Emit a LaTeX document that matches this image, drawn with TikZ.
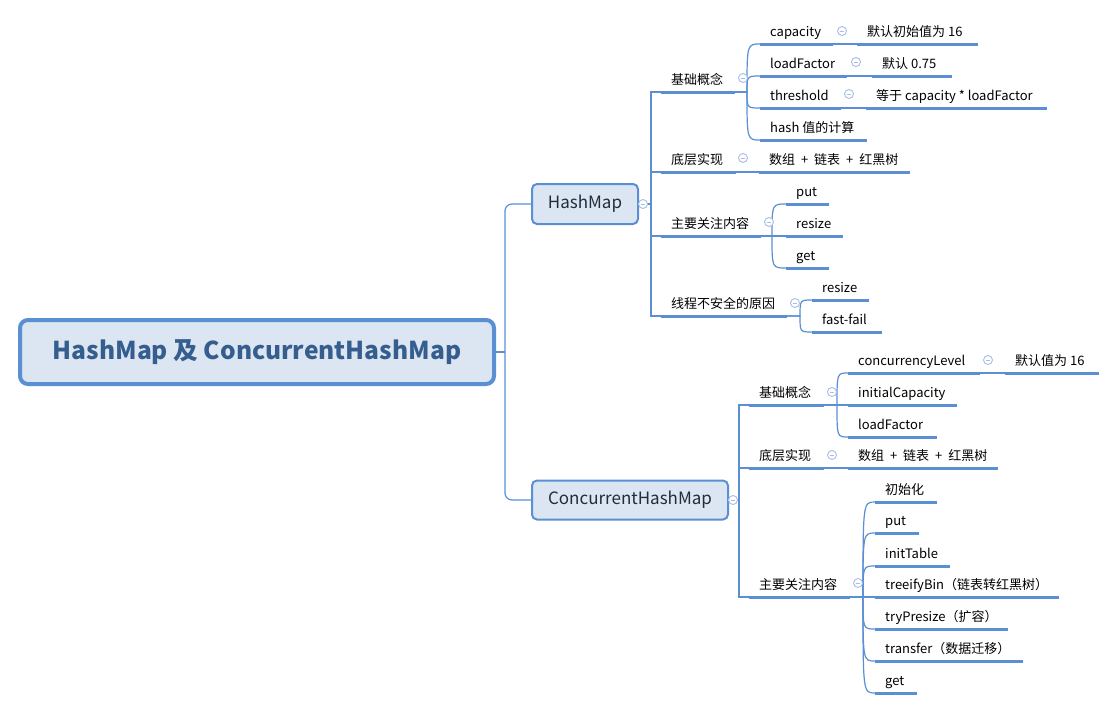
\documentclass[tikz,border=0pt]{standalone}
\usepackage{fontspec}
\setmainfont{Noto Sans CJK SC}
\definecolor{lineblue}{HTML}{5B8FD4}
\definecolor{boxfill}{HTML}{DCE6F2}
\definecolor{roottext}{HTML}{355E8E}
\definecolor{maintext}{HTML}{1F2D3D}
\definecolor{circ}{HTML}{A8BEE4}
\tikzset{
  conn/.style={draw=lineblue, line width=1.2pt},
  uline/.style={draw=lineblue, line width=3pt},
  txt/.style={inner sep=0pt, font=\fontsize{13}{15}\selectfont, text=black},
  collapse/.style={circle, draw=circ, fill=white, line width=0.9pt, minimum size=9pt, inner sep=0pt,
    path picture={\draw[circ, line width=0.9pt] ([xshift=-2.4pt]path picture bounding box.center) -- ([xshift=2.4pt]path picture bounding box.center);}},
  mainbox/.style={draw=lineblue, fill=boxfill, line width=2pt, rounded corners=5pt,
    font=\fontsize{17}{20}\selectfont, text=maintext, inner sep=0pt, anchor=west, minimum height=40pt},
  rootbox/.style={draw=lineblue, fill=boxfill, line width=4pt, rounded corners=8pt,
    font=\fontsize{24.6}{28}\selectfont\bfseries, text=roottext, inner sep=0pt, minimum width=474pt, minimum height=64pt}
}
\newcommand\topic[5]{%
  \coordinate (#1-l) at (#2,#3);
  \coordinate (#1-r) at (#4,#3);
  \node[txt, anchor=base west] (#1) at ([shift={(10,-8)}]#1-l) {#5};
  \draw[uline] (#1-l) -- (#1-r);
}
\newcommand\bracelink[3]{%
  \coordinate (#1-j) at ([xshift=#2pt]#1-r);
  \draw[conn] (#1-r) -- (#1-j) .. controls (#1-j |- #3-l) and (#1-j |- #3-l) .. (#3-l);
}
\newcommand\straightlink[2]{%
  \draw[conn] (#1-r) -- (#2-l);
}
\newcommand\plusgap{\hspace{3pt} + \hspace{3pt}}
\begin{document}
\begin{tikzpicture}[x=1pt,y=-1pt]
\useasboundingbox (0,0) rectangle (1117,710);
\fill[white] (0,0) rectangle (1117,710);

% root and main topics
\node[rootbox] (root) at (257,352) {HashMap 及 ConcurrentHashMap};
\node[mainbox, minimum width=106pt] (hm) at (531,204) {HashMap};
\node[mainbox, minimum width=196pt, minimum height=39pt] (chm) at (531,500) {ConcurrentHashMap};

\coordinate (rj) at (505,352);
\draw[conn] (root.east) -- (rj);
\draw[conn, rounded corners=7pt] (rj) |- (hm.west);
\draw[conn, rounded corners=7pt] (rj) |- (chm.west);

% HashMap subtopics
\topic{b1}{661}{92}{735}{基础概念}
\topic{b2}{661}{172}{736}{底层实现}
\topic{b3}{661}{236}{761}{主要关注内容}
\topic{b4}{661}{316}{787}{线程不安全的原因}

\coordinate (hmj) at (651,204);
\draw[conn] (hm.east) -- (hmj);
\foreach \n in {b1,b2,b3,b4} {\draw[conn] (hmj) |- (\n-l);}

\topic{c1}{760}{44}{833}{capacity}
\topic{c1v}{857}{44}{978}{默认初始值为 16}
\topic{c2}{760}{76}{847}{loadFactor}
\topic{c2v}{872}{76}{952}{默认 0.75}
\topic{c3}{760}{108}{841}{threshold}
\topic{c3v}{866}{108}{1047}{等于 capacity * loadFactor}
\topic{c4}{760}{140}{867}{hash 值的计算}
\topic{d1}{759}{172}{910}{数组\plusgap 链表\plusgap 红黑树}
\topic{e1}{786}{204}{829}{put}
\topic{e2}{786}{236}{843}{resize}
\topic{e3}{786}{268}{829}{get}
\topic{f1}{812}{300}{869}{resize}
\topic{f2}{812}{332}{882}{fast-fail}

\foreach \n in {c1,c2,c3,c4} {\bracelink{b1}{12}{\n}}
\straightlink{c1}{c1v}
\straightlink{c2}{c2v}
\straightlink{c3}{c3v}
\straightlink{b2}{d1}
\bracelink{b3}{11}{e1}
\straightlink{b3}{e2}
\bracelink{b3}{11}{e3}
\bracelink{b4}{13}{f1}
\bracelink{b4}{13}{f2}

% ConcurrentHashMap subtopics
\topic{g1}{749}{405}{824}{基础概念}
\topic{g2}{749}{468}{824}{底层实现}
\topic{g3}{749}{597}{850}{主要关注内容}

\coordinate (chmj) at (739,500);
\draw[conn] (chm.east) -- (chmj);
\foreach \n in {g1,g2,g3} {\draw[conn] (chmj) |- (\n-l);}

\topic{h1}{848}{373}{980}{concurrencyLevel}
\topic{h1v}{1005}{373}{1099}{默认值为 16}
\topic{h2}{848}{405}{957}{initialCapacity}
\topic{h3}{848}{437}{937}{loadFactor}
\topic{i1}{848}{468}{998}{数组\plusgap 链表\plusgap 红黑树}
\topic{j1}{875}{502}{937}{初始化}
\topic{j2}{875}{533}{919}{put}
\topic{j3}{875}{566}{950}{initTable}
\topic{j4}{875}{597}{1059}{treeifyBin（链表转红黑树）}
\topic{j5}{875}{629}{1008}{tryPresize（扩容）}
\topic{j6}{875}{661}{1023}{transfer（数据迁移）}
\topic{j7}{875}{693}{917}{get}

\bracelink{g1}{13}{h1}
\straightlink{g1}{h2}
\bracelink{g1}{13}{h3}
\straightlink{h1}{h1v}
\straightlink{g2}{i1}
\foreach \n in {j1,j2,j3,j5,j6,j7} {\bracelink{g3}{13}{\n}}
\straightlink{g3}{j4}

% collapse markers
\node[collapse] (k1) at (643,204) {};
\node[collapse] (k2) at (733,500) {};
\node[collapse] (k3) at (743,78) {};
\node[collapse] (k4) at (743,158) {};
\node[collapse] (k5) at (769,222) {};
\node[collapse] (k6) at (795,303) {};
\node[collapse] (k7) at (842,31) {};
\node[collapse] (k8) at (856,62) {};
\node[collapse] (k9) at (849,94) {};
\node[collapse] (k10) at (832,392) {};
\node[collapse] (k11) at (832,455) {};
\node[collapse] (k12) at (858,583) {};
\node[collapse] (k13) at (988,360) {};
\end{tikzpicture}
\end{document}
